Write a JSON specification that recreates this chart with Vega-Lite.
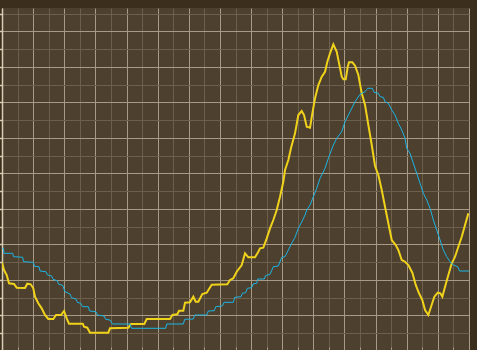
{
  "$schema": "https://vega.github.io/schema/vega-lite/v6.json",
  "width": 467,
  "height": 343,
  "autosize": {"type": "none"},
  "padding": {"left": 2, "top": 8, "right": 8, "bottom": 0},
  "background": "#3b2e1d",
  "config": {"view": {"fill": "#4e402f", "stroke": null}},
  "data": {"values": [
    {"s":"A","t":0.0,"v":24.9},{"s":"A","t":0.64,"v":22.81},{"s":"A","t":1.51,"v":21.4},{"s":"A","t":2.25,"v":19.07},{"s":"A","t":3.85,"v":18.87},{"s":"A","t":4.72,"v":17.83},{"s":"A","t":7.39,"v":17.74},{"s":"A","t":8.13,"v":18.95},{"s":"A","t":9.22,"v":18.78},{"s":"A","t":10.05,"v":17.66},{"s":"A","t":10.6,"v":15.29},{"s":"A","t":11.66,"v":13.43},{"s":"A","t":12.75,"v":12.02},{"s":"A","t":13.81,"v":10.14},{"s":"A","t":14.87,"v":9.01},{"s":"A","t":16.48,"v":9.01},{"s":"A","t":17.35,"v":10.14},{"s":"A","t":18.95,"v":10.14},{"s":"A","t":19.92,"v":11.26},{"s":"A","t":20.78,"v":9.21},{"s":"A","t":21.52,"v":7.69},{"s":"A","t":25.92,"v":7.69},{"s":"A","t":26.34,"v":6.84},{"s":"A","t":27.4,"v":6.56},{"s":"A","t":28.27,"v":5.15},{"s":"A","t":34.15,"v":5.15},{"s":"A","t":34.69,"v":6.39},{"s":"A","t":40.57,"v":6.56},{"s":"A","t":41.44,"v":7.6},{"s":"A","t":45.71,"v":7.6},{"s":"A","t":46.48,"v":9.01},{"s":"A","t":53.97,"v":9.01},{"s":"A","t":54.71,"v":10.14},{"s":"A","t":56.31,"v":10.34},{"s":"A","t":56.86,"v":11.35},{"s":"A","t":58.24,"v":11.35},{"s":"A","t":58.79,"v":13.6},{"s":"A","t":60.39,"v":13.71},{"s":"A","t":61.45,"v":15.29},{"s":"A","t":62.22,"v":13.88},{"s":"A","t":63.06,"v":13.88},{"s":"A","t":64.34,"v":16.05},{"s":"A","t":65.76,"v":16.42},{"s":"A","t":67.36,"v":18.67},{"s":"A","t":72.37,"v":18.78},{"s":"A","t":73.24,"v":19.99},{"s":"A","t":74.3,"v":20.47},{"s":"A","t":75.39,"v":22.33},{"s":"A","t":77.0,"v":24.22},{"s":"A","t":78.06,"v":27.51},{"s":"A","t":79.12,"v":26.39},{"s":"A","t":81.27,"v":26.39},{"s":"A","t":82.33,"v":27.96},{"s":"A","t":82.88,"v":28.92},{"s":"A","t":83.94,"v":29.09},{"s":"A","t":85.03,"v":31.74},{"s":"A","t":86.09,"v":34.55},{"s":"A","t":87.15,"v":36.89},{"s":"A","t":88.24,"v":39.71},{"s":"A","t":89.3,"v":43.45},{"s":"A","t":90.36,"v":47.68},{"s":"A","t":90.91,"v":50.97},{"s":"A","t":91.97,"v":53.79},{"s":"A","t":92.83,"v":57.17},{"s":"A","t":94.12,"v":61.31},{"s":"A","t":95.18,"v":66.46},{"s":"A","t":96.27,"v":67.59},{"s":"A","t":97.01,"v":66.46},{"s":"A","t":97.88,"v":63.17},{"s":"A","t":98.94,"v":62.88},{"s":"A","t":99.68,"v":66.94},{"s":"A","t":100.55,"v":71.16},{"s":"A","t":101.61,"v":74.91},{"s":"A","t":102.7,"v":77.25},{"s":"A","t":103.76,"v":78.65},{"s":"A","t":104.5,"v":81.47},{"s":"A","t":105.36,"v":83.84},{"s":"A","t":106.42,"v":86.37},{"s":"A","t":107.52,"v":84.29},{"s":"A","t":108.26,"v":81.02},{"s":"A","t":109.12,"v":77.25},{"s":"A","t":109.64,"v":76.51},{"s":"A","t":110.41,"v":76.51},{"s":"A","t":111.05,"v":80.06},{"s":"A","t":111.47,"v":81.3},{"s":"A","t":112.53,"v":81.3},{"s":"A","t":113.4,"v":80.34},{"s":"A","t":114.46,"v":77.72},{"s":"A","t":115.55,"v":72.57},{"s":"A","t":116.61,"v":69.28},{"s":"A","t":117.67,"v":63.64},{"s":"A","t":118.76,"v":58.01},{"s":"A","t":119.82,"v":52.1},{"s":"A","t":120.88,"v":49.56},{"s":"A","t":121.97,"v":45.34},{"s":"A","t":123.03,"v":40.64},{"s":"A","t":124.09,"v":35.96},{"s":"A","t":125.18,"v":31.26},{"s":"A","t":126.47,"v":29.85},{"s":"A","t":127.3,"v":28.44},{"s":"A","t":128.4,"v":25.63},{"s":"A","t":129.46,"v":25.15},{"s":"A","t":130.52,"v":24.22},{"s":"A","t":131.8,"v":22.05},{"s":"A","t":132.89,"v":18.59},{"s":"A","t":133.95,"v":16.25},{"s":"A","t":135.01,"v":14.36},{"s":"A","t":135.88,"v":11.55},{"s":"A","t":136.94,"v":10.14},{"s":"A","t":137.81,"v":12.48},{"s":"A","t":138.87,"v":15.29},{"s":"A","t":139.96,"v":16.42},{"s":"A","t":140.8,"v":16.25},{"s":"A","t":141.44,"v":15.29},{"s":"A","t":142.31,"v":18.11},{"s":"A","t":143.37,"v":21.4},{"s":"A","t":144.46,"v":24.7},{"s":"A","t":145.52,"v":26.56},{"s":"A","t":146.58,"v":29.37},{"s":"A","t":147.67,"v":32.19},{"s":"A","t":148.73,"v":35.48},{"s":"A","t":149.79,"v":38.78},
    {"s":"B","t":0.1,"v":28.92},{"s":"B","t":0.48,"v":28.92},{"s":"B","t":0.64,"v":27.51},{"s":"B","t":3.44,"v":27.51},{"s":"B","t":3.69,"v":26.56},{"s":"B","t":6.65,"v":26.39},{"s":"B","t":6.91,"v":25.15},{"s":"B","t":10.05,"v":24.98},{"s":"B","t":10.44,"v":23.85},{"s":"B","t":11.89,"v":23.74},{"s":"B","t":12.21,"v":22.53},{"s":"B","t":14.13,"v":22.33},{"s":"B","t":14.62,"v":21.4},{"s":"B","t":15.97,"v":21.12},{"s":"B","t":16.38,"v":20.19},{"s":"B","t":17.76,"v":19.8},{"s":"B","t":18.21,"v":18.78},{"s":"B","t":19.5,"v":18.5},{"s":"B","t":20.24,"v":16.7},{"s":"B","t":21.84,"v":16.05},{"s":"B","t":22.33,"v":15.01},{"s":"B","t":23.77,"v":14.64},{"s":"B","t":24.19,"v":13.71},{"s":"B","t":25.28,"v":13.43},{"s":"B","t":25.86,"v":12.48},{"s":"B","t":27.72,"v":12.48},{"s":"B","t":28.17,"v":11.26},{"s":"B","t":30.2,"v":11.07},{"s":"B","t":30.61,"v":10.14},{"s":"B","t":32.77,"v":9.86},{"s":"B","t":33.31,"v":8.93},{"s":"B","t":34.69,"v":8.73},{"s":"B","t":35.5,"v":7.6},{"s":"B","t":41.12,"v":7.6},{"s":"B","t":41.6,"v":6.39},{"s":"B","t":52.59,"v":6.39},{"s":"B","t":52.91,"v":7.6},{"s":"B","t":58.24,"v":7.6},{"s":"B","t":58.69,"v":8.93},{"s":"B","t":61.45,"v":9.01},{"s":"B","t":61.9,"v":10.14},{"s":"B","t":65.76,"v":10.14},{"s":"B","t":66.27,"v":11.26},{"s":"B","t":68.2,"v":11.35},{"s":"B","t":68.65,"v":12.48},{"s":"B","t":70.77,"v":12.67},{"s":"B","t":71.31,"v":13.71},{"s":"B","t":74.3,"v":13.71},{"s":"B","t":74.75,"v":15.12},{"s":"B","t":76.78,"v":15.29},{"s":"B","t":77.19,"v":16.25},{"s":"B","t":78.28,"v":16.42},{"s":"B","t":78.8,"v":17.66},{"s":"B","t":80.21,"v":17.83},{"s":"B","t":80.63,"v":18.87},{"s":"B","t":81.82,"v":19.07},{"s":"B","t":82.14,"v":20.28},{"s":"B","t":84.26,"v":20.28},{"s":"B","t":84.64,"v":21.21},{"s":"B","t":86.09,"v":21.6},{"s":"B","t":87.15,"v":23.74},{"s":"B","t":88.76,"v":23.94},{"s":"B","t":89.85,"v":26.39},{"s":"B","t":90.91,"v":26.56},{"s":"B","t":91.97,"v":28.44},{"s":"B","t":93.06,"v":30.33},{"s":"B","t":94.12,"v":32.02},{"s":"B","t":95.18,"v":34.55},{"s":"B","t":96.27,"v":36.33},{"s":"B","t":97.33,"v":38.3},{"s":"B","t":97.88,"v":39.71},{"s":"B","t":98.94,"v":41.11},{"s":"B","t":99.68,"v":42.72},{"s":"B","t":101.09,"v":45.82},{"s":"B","t":102.15,"v":48.63},{"s":"B","t":103.76,"v":51.45},{"s":"B","t":104.82,"v":54.27},{"s":"B","t":106.42,"v":58.01},{"s":"B","t":107.52,"v":59.9},{"s":"B","t":109.12,"v":61.76},{"s":"B","t":110.18,"v":64.57},{"s":"B","t":111.79,"v":67.39},{"s":"B","t":113.4,"v":70.21},{"s":"B","t":115.0,"v":72.29},{"s":"B","t":116.61,"v":73.02},{"s":"B","t":117.47,"v":73.98},{"s":"B","t":118.95,"v":73.98},{"s":"B","t":119.5,"v":72.85},{"s":"B","t":120.88,"v":72.57},{"s":"B","t":121.43,"v":71.61},{"s":"B","t":122.49,"v":71.44},{"s":"B","t":123.03,"v":70.21},{"s":"B","t":124.09,"v":69.75},{"s":"B","t":125.18,"v":67.87},{"s":"B","t":126.24,"v":66.46},{"s":"B","t":127.3,"v":64.12},{"s":"B","t":128.4,"v":62.24},{"s":"B","t":129.46,"v":59.9},{"s":"B","t":130.0,"v":57.08},{"s":"B","t":131.06,"v":55.67},{"s":"B","t":132.12,"v":52.86},{"s":"B","t":133.21,"v":50.04},{"s":"B","t":134.28,"v":47.23},{"s":"B","t":135.34,"v":44.41},{"s":"B","t":136.43,"v":42.52},{"s":"B","t":137.49,"v":40.19},{"s":"B","t":138.55,"v":36.89},{"s":"B","t":139.64,"v":34.07},{"s":"B","t":140.7,"v":31.26},{"s":"B","t":141.76,"v":28.44},{"s":"B","t":142.85,"v":26.56},{"s":"B","t":143.91,"v":25.15},{"s":"B","t":144.97,"v":24.22},{"s":"B","t":146.38,"v":23.74},{"s":"B","t":146.96,"v":22.53},{"s":"B","t":150.0,"v":22.53}
  ]},
  "mark": {"type": "line", "clip": true},
  "encoding": {
    "x": {"field": "t", "type": "quantitative", "scale": {"domain": [0, 150], "nice": false, "zero": false},
      "axis": {"title": null, "labels": false, "domain": false, "orient": "bottom",
        "values": [0,5,10,15,20,25,30,35,40,45,50,55,60,65,70,75,80,85,90,95,100,105,110,115,120,125,130,135,140,145,150],
        "grid": true, "gridOpacity": 1,
        "gridColor": {"condition": {"test": "datum.value % 10 !== 0", "value": "#6c5f4c"}, "value": "#a89a84"},
        "tickSize": -4, "tickColor": "#a89a84"}},
    "y": {"field": "v", "type": "quantitative", "scale": {"domain": [0, 96.6], "nice": false, "zero": false},
      "axis": {"title": null, "labels": false, "orient": "left",
        "values": [0,5,10,15,20,25,30,35,40,45,50,55,60,65,70,75,80,85,90,95],
        "grid": true, "gridOpacity": 1,
        "gridColor": {"condition": {"test": "datum.value % 10 !== 0", "value": "#6c5f4c"}, "value": "#a89a84"},
        "domain": true, "domainColor": "#d8cdb6", "domainWidth": 1.5,
        "tickSize": 3, "tickColor": "#d8cdb6", "tickWidth": 1.5}},
    "color": {"field": "s", "type": "nominal", "scale": {"domain": ["A", "B"], "range": ["#f0d21a", "#1ab4e4"]}, "legend": null},
    "strokeWidth": {"field": "s", "type": "nominal", "scale": {"domain": ["A", "B"], "range": [2, 1]}, "legend": null}
  }
}
